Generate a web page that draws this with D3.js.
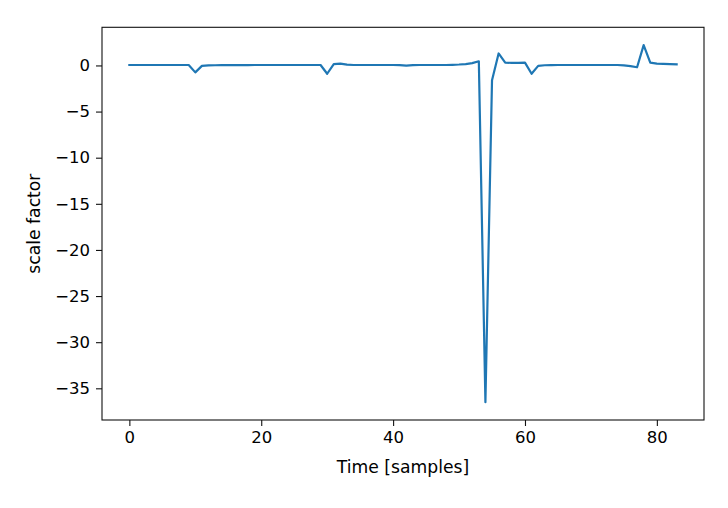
<!DOCTYPE html>
<html>
<head>
<meta charset="utf-8">
<script src="https://cdn.jsdelivr.net/npm/d3@7"></script>
<style>
  html, body { margin: 0; padding: 0; background: #fff; }
  svg { display: block; }
  text { font-family: "DejaVu Sans", sans-serif; fill: #000; }
</style>
</head>
<body>
<svg id="chart" width="728" height="508"></svg>
<script>
// ---- data ----
const scaleFactor = [
  0.05, 0.05, 0.05, 0.05, 0.05, 0.05, 0.05, 0.05, 0.05, 0.05,   // 0-9
  -0.75, -0.05, 0.0, 0.02, 0.03, 0.03, 0.03, 0.04, 0.04, 0.05,  // 10-19
  0.05, 0.05, 0.05, 0.05, 0.05, 0.05, 0.05, 0.05, 0.05, 0.05,   // 20-29
  -0.9, 0.15, 0.2, 0.08, 0.05, 0.05, 0.05, 0.05, 0.05, 0.05,    // 30-39
  0.05, 0.03, -0.02, 0.03, 0.05, 0.05, 0.05, 0.05, 0.05, 0.07,  // 40-49
  0.1, 0.15, 0.25, 0.45, -36.5, -1.6, 1.3, 0.3, 0.28, 0.28,     // 50-59
  0.3, -0.9, -0.05, 0.02, 0.04, 0.05, 0.05, 0.05, 0.05, 0.05,   // 60-69
  0.05, 0.05, 0.05, 0.05, 0.05, 0.0, -0.08, -0.2, 2.2, 0.3,     // 70-79
  0.2, 0.18, 0.15, 0.12                                          // 80-83
];
const samples = scaleFactor.map((_, i) => i);
const xTicks = [0, 20, 40, 60, 80];
const yTicks = [0, -5, -10, -15, -20, -25, -30, -35];
const xLabel = "Time [samples]";
const yLabel = "scale factor";

// ---- layout ----
const svg = d3.select("#chart");
const mLeft = 102, mRight = 704, mTop = 27.3, mBottom = 420;

const xMin = d3.min(samples), xMax = d3.max(samples);
const xPad = (xMax - xMin) * 0.05;
const yMin = d3.min(scaleFactor), yMax = d3.max(scaleFactor);
const yPad = (yMax - yMin) * 0.05;

const x = d3.scaleLinear().domain([xMin - xPad, xMax + xPad]).range([mLeft, mRight]);
const y = d3.scaleLinear().domain([yMin - yPad, yMax + yPad]).range([mBottom, mTop]);

const minus = s => String(s).replace("-", "\u2212");

// x axis
const xAxis = svg.append("g")
  .attr("transform", `translate(0,${mBottom})`)
  .call(d3.axisBottom(x).tickValues(xTicks).tickSize(6).tickPadding(5)
        .tickFormat(d => minus(d)));
xAxis.select(".domain").remove();
xAxis.selectAll("line").attr("stroke", "#111").attr("stroke-width", 1.1);
xAxis.selectAll("text").attr("font-size", "16.5px").style("font-family", "DejaVu Sans, sans-serif").attr("fill", "#111");

// y axis
const yAxis = svg.append("g")
  .attr("transform", `translate(${mLeft},0)`)
  .call(d3.axisLeft(y).tickValues(yTicks).tickSize(6).tickPadding(6)
        .tickFormat(d => minus(d)));
yAxis.select(".domain").remove();
yAxis.selectAll("line").attr("stroke", "#111").attr("stroke-width", 1.1);
yAxis.selectAll("text").attr("font-size", "16.5px").style("font-family", "DejaVu Sans, sans-serif").attr("fill", "#111");

// line
const line = d3.line()
  .x((d, i) => x(samples[i]))
  .y(d => y(d));

svg.append("path")
  .datum(scaleFactor)
  .attr("fill", "none")
  .attr("stroke", "#1f77b4")
  .attr("stroke-width", 2.2)
  .attr("stroke-linejoin", "round")
  .attr("stroke-linecap", "square")
  .attr("d", line);

// frame
svg.append("rect")
  .attr("x", mLeft).attr("y", mTop)
  .attr("width", mRight - mLeft).attr("height", mBottom - mTop)
  .attr("fill", "none").attr("stroke", "#111").attr("stroke-width", 1.1);

// axis labels
svg.append("text")
  .attr("x", (mLeft + mRight) / 2).attr("y", 473)
  .attr("text-anchor", "middle")
  .attr("font-size", "17.2px")
  .attr("fill", "#111")
  .text(xLabel);

svg.append("text")
  .attr("transform", `translate(39.5,${(mTop + mBottom) / 2}) rotate(-90)`)
  .attr("text-anchor", "middle")
  .attr("font-size", "17.2px")
  .attr("fill", "#111")
  .text(yLabel);
</script>
</body>
</html>
